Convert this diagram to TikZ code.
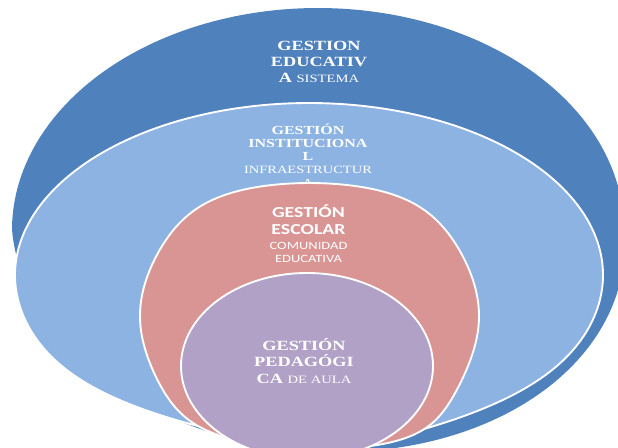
\documentclass[tikz,border=0pt]{standalone}
\usepackage{fontspec}
\setmainfont{Liberation Serif}
\newfontfamily\wideserif[FakeStretch=1.3]{Liberation Serif}
\newfontfamily\widesans[FakeStretch=1.3]{Carlito}
\usetikzlibrary{positioning}
\definecolor{edublue}{HTML}{4F81BD}
\definecolor{instblue}{HTML}{8DB3E2}
\definecolor{escrose}{HTML}{D99594}
\definecolor{pedlilac}{HTML}{B2A1C7}
\tikzset{
    layer/.style={draw=white,line width=1.6pt},
    layertext/.style={text=white,align=center,inner sep=0pt},
    serifbig/.style={font=\wideserif\bfseries\fontsize{12}{13.7}\selectfont},
    serifmid/.style={font=\wideserif\bfseries\fontsize{10.5}{11.2}\selectfont},
    sansbig/.style={font=\widesans\bfseries\fontsize{13}{15}\selectfont},
    sanssmall/.style={font=\widesans\fontsize{9.5}{11.1}\selectfont},
    egg/.style={domain=0:360,samples=180,variable=\t,smooth cycle}
}

\begin{document}
\begin{tikzpicture}[x=0.03cm,y=-0.03cm,
    declare function={dn(\t)=max(sin(\t),0);}]
    \useasboundingbox (0,0) rectangle (618,447);
    \clip (0,0) rectangle (618,447);
    \fill[edublue] plot[egg] ({318+306*cos(\t)+20*dn(\t)},{230+222*sin(\t)});
    \node[layertext,serifbig] (sistema) at (319,61.5)
        {GESTION\\EDUCATIV\\A {\fontsize{9.6}{13.7}\selectfont\mdseries SISTEMA}};
    \filldraw[layer,fill=instblue] plot[egg]
        ({309+294*cos(\t)*(1-0.35*dn(\t)^6)+15*dn(\t)^6},{275+172*sin(\t)});
    \node[layertext,serifmid] (infra) at (308,155.5)
        {GESTIÓN\\INSTITUCIONA\\L\\{\mdseries\fontsize{9.5}{11.2}\selectfont INFRAESTRUCTUR}\\{\mdseries A}};
    \filldraw[layer,fill=escrose] plot[egg]
        ({309.5+169.5*cos(\t)*(1+0.3*sin(\t)^4+0.15*dn(\t)^4)+12*dn(\t)^6},{316+133*sin(\t)});
    \node[layertext,sansbig] (escolar) at (308.5,219.5) {GESTIÓN\\ESCOLAR};
    \node[layertext,sanssmall] (comunidad) at (308.5,252.3) {COMUNIDAD\\EDUCATIVA};
    \filldraw[layer,fill=pedlilac] (307,366) ellipse [x radius=126,y radius=93];
    \node[layertext,serifbig] (aula) at (304,361)
        {GESTIÓN\\PEDAGÓGI\\CA {\fontsize{9.6}{13.7}\selectfont\mdseries DE AULA}};
\end{tikzpicture}
\end{document}
